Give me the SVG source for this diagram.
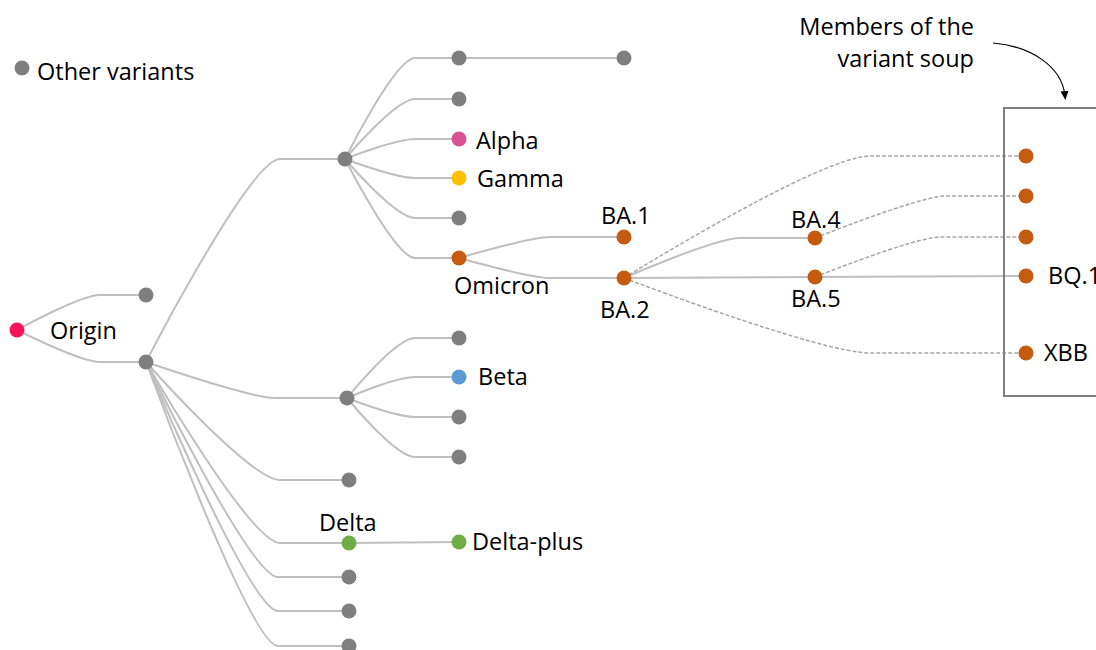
<svg xmlns="http://www.w3.org/2000/svg" width="1096" height="650" viewBox="0 0 1096 650">
<style>
.ln{fill:none;stroke:#BFBFBF;stroke-width:2}
.ds{fill:none;stroke:#A6A6A6;stroke-width:1.5;stroke-dasharray:4 2}
.g{fill:#7F7F7F}
.o{fill:#C55A11}
.t{font-family:"Open Sans","Noto Sans",sans-serif;font-size:23.5px;fill:#000}
</style>
<defs>
<marker id="ah" markerWidth="10" markerHeight="10" refX="5" refY="5" orient="auto" markerUnits="userSpaceOnUse">
<path d="M0,1 L9,5 L0,9 Z" fill="#000"/>
</marker>
</defs>
<rect width="1096" height="650" fill="#fff"/>
<g id="connectors">
<path class="ln" d="M17,330 C17,330 80,295 100,295 L146,295"/>
<path class="ln" d="M17,330 C17,330 80,362 100,362 L146,362"/>
<path class="ln" d="M146,362 C146,362 250,159 280,159 L345,159"/>
<path class="ln" d="M345,159 C345,159 395,58 415,58 L459,58"/>
<path class="ln" d="M459,58 L624,58"/>
<path class="ln" d="M345,159 C345,159 395,99 415,99 L459,99"/>
<path class="ln" d="M345,159 C345,159 395,139 415,139 L459,139"/>
<path class="ln" d="M345,159 C345,159 395,178 415,178 L459,178"/>
<path class="ln" d="M345,159 C345,159 395,218 415,218 L459,218"/>
<path class="ln" d="M345,159 C345,159 395,258 415,258 L459,258"/>
<path class="ln" d="M459,258 C459,258 530,237 550,237 L624,237"/>
<path class="ln" d="M459,258 C459,258 530,278 550,278 L624,278"/>
<path class="ln" d="M624,278 C624,278 715,238 740,238 L815,238"/>
<path class="ln" d="M624,278 L815,277 L1026,276"/>
<path class="ds" d="M624,278 C624,278 820,156 870,156 L1026,156"/>
<path class="ds" d="M624,278 C624,278 820,353 870,353 L1026,353"/>
<path class="ds" d="M815,238 C815,238 920,196 945,196 L1026,196"/>
<path class="ds" d="M815,277 C815,277 915,237 940,237 L1026,237"/>
<path class="ln" d="M146,362 C146,362 250,398 275,398 L347,398"/>
<path class="ln" d="M347,398 C347,398 395,338 415,338 L459,338"/>
<path class="ln" d="M347,398 C347,398 395,377 415,377 L459,377"/>
<path class="ln" d="M347,398 C347,398 395,417 415,417 L459,417"/>
<path class="ln" d="M347,398 C347,398 395,457 415,457 L459,457"/>
<path class="ln" d="M146,362 C146,362 250,480 280,480 L349,480"/>
<path class="ln" d="M146,362 C146,362 250,543 280,543 L349,543"/>
<path class="ln" d="M349,543 L459,542"/>
<path class="ln" d="M146,362 C146,362 250,577 278,577 L349,577"/>
<path class="ln" d="M146,362 C146,362 250,611 278,611 L349,611"/>
<path class="ln" d="M146,362 C146,362 250,646 278,646 L349,646"/>
<path d="M993,43 C1030,46 1062,66 1065,96" fill="none" stroke="#000" stroke-width="1.2" marker-end="url(#ah)"/>
</g>
<g id="legend">
<circle class="g" cx="22" cy="68" r="7.5"/>
<text class="t" x="37" y="80">Other variants</text>
</g>
<g id="annotation">
<text class="t" x="974" y="35" text-anchor="end">Members of the</text>
<text class="t" x="974" y="67" text-anchor="end">variant soup</text>
</g>
<g id="soup-box">
<rect x="1004" y="108" width="120" height="288" fill="none" stroke="#7F7F7F" stroke-width="2"/>
</g>
<g id="origin"><circle cx="17" cy="330" r="7.5" fill="#F5145C"/><text class="t" x="50" y="339">Origin</text></g>
<g id="n1"><circle class="g" cx="146" cy="295" r="7.5"/></g>
<g id="n2"><circle class="g" cx="146" cy="362" r="7.5"/></g>
<g id="n3"><circle class="g" cx="345" cy="159" r="7.5"/></g>
<g id="n4"><circle class="g" cx="459" cy="58" r="7.5"/></g>
<g id="n5"><circle class="g" cx="624" cy="58" r="7.5"/></g>
<g id="n6"><circle class="g" cx="459" cy="99" r="7.5"/></g>
<g id="alpha"><circle cx="459" cy="139" r="7.5" fill="#DA5092"/><text class="t" x="476" y="149">Alpha</text></g>
<g id="gamma"><circle cx="459" cy="178" r="7.5" fill="#FFC000"/><text class="t" x="477" y="187">Gamma</text></g>
<g id="n7"><circle class="g" cx="459" cy="218" r="7.5"/></g>
<g id="omicron"><circle class="o" cx="459" cy="258" r="7.5"/><text class="t" x="454" y="294">Omicron</text></g>
<g id="ba1"><circle class="o" cx="624" cy="237" r="7.5"/><text class="t" x="601" y="224">BA.1</text></g>
<g id="ba2"><circle class="o" cx="624" cy="278" r="7.5"/><text class="t" x="600" y="318">BA.2</text></g>
<g id="ba4"><circle class="o" cx="815" cy="238" r="7.5"/><text class="t" x="791" y="228">BA.4</text></g>
<g id="ba5"><circle class="o" cx="815" cy="277" r="7.5"/><text class="t" x="791" y="307">BA.5</text></g>
<g id="s1"><circle class="o" cx="1026" cy="156" r="7.5"/></g>
<g id="s2"><circle class="o" cx="1026" cy="196" r="7.5"/></g>
<g id="s3"><circle class="o" cx="1026" cy="237" r="7.5"/></g>
<g id="bq1"><circle class="o" cx="1026" cy="276" r="7.5"/><text class="t" x="1048" y="284">BQ.1</text></g>
<g id="xbb"><circle class="o" cx="1026" cy="353" r="7.5"/><text class="t" x="1044" y="361">XBB</text></g>
<g id="n8"><circle class="g" cx="347" cy="398" r="7.5"/></g>
<g id="n9"><circle class="g" cx="459" cy="338" r="7.5"/></g>
<g id="beta"><circle cx="459" cy="377" r="7.5" fill="#5B9BD5"/><text class="t" x="478" y="385">Beta</text></g>
<g id="n10"><circle class="g" cx="459" cy="417" r="7.5"/></g>
<g id="n11"><circle class="g" cx="459" cy="457" r="7.5"/></g>
<g id="n12"><circle class="g" cx="349" cy="480" r="7.5"/></g>
<g id="delta"><circle cx="349" cy="543" r="7.5" fill="#70AD47"/><text class="t" x="319" y="531">Delta</text></g>
<g id="deltaplus"><circle cx="459" cy="542" r="7.5" fill="#70AD47"/><text class="t" x="472" y="550">Delta-plus</text></g>
<g id="n13"><circle class="g" cx="349" cy="577" r="7.5"/></g>
<g id="n14"><circle class="g" cx="349" cy="611" r="7.5"/></g>
<g id="n15"><circle class="g" cx="349" cy="646" r="7.5"/></g>
</svg>
